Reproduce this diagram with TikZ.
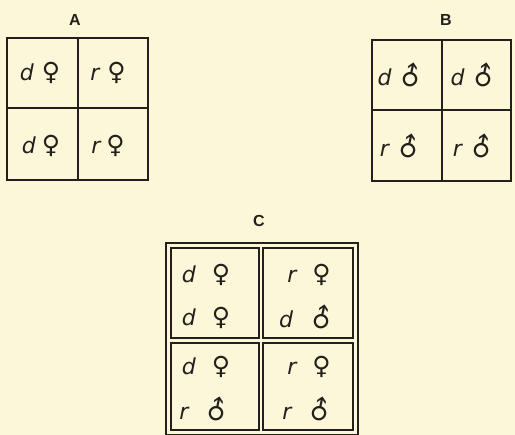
\documentclass[tikz,border=0pt]{standalone}
\usepackage{fontspec}
\setmainfont{Latin Modern Roman}
\newfontfamily\symfont{DejaVu Sans}
\newfontfamily\letfont{DejaVu Sans}
\newfontfamily\labfont{Liberation Sans}
\definecolor{paper}{RGB}{251,247,216}
\definecolor{ink}{RGB}{35,32,28}
\newcommand{\fem}{{\symfont\upshape\fontsize{25}{25}\selectfont\char"2640}}
\newcommand{\mal}{\raisebox{0.02em}{\rotatebox[origin=c]{34}{\symfont\upshape\fontsize{26}{26}\selectfont\char"2642}}}
\begin{document}
\begin{tikzpicture}[x=1pt,y=-1pt,
  gridline/.style={draw=ink,line width=1.6pt},
  cell/.style={text=ink,font=\letfont\itshape\fontsize{22}{24}\selectfont,inner sep=0pt},
  lab/.style={text=ink,font=\labfont\bfseries\fontsize{16}{18}\selectfont,inner sep=0pt}]
\fill[paper] (0,0) rectangle (515,435);
\useasboundingbox (0,0) rectangle (515,435);
% A
\node[lab] (la) at (75,20) {A};
\draw[gridline] (7,38) rectangle (148,180);
\draw[gridline] (78,38) -- (78,180);
\draw[gridline] (7,108) -- (148,108);
\node[cell] (a1) at (40,73) {d\kern8pt\fem};
\node[cell] (a2) at (108,73) {r\kern8pt\fem};
\node[cell] (a3) at (41,146) {d\kern6pt\fem};
\node[cell] (a4) at (108,146) {r\kern6pt\fem};
% B
\node[lab] (lb) at (446,20) {B};
\draw[gridline] (372,40) rectangle (511,181);
\draw[gridline] (442,40) -- (442,181);
\draw[gridline] (372,110) -- (511,110);
\node[cell] (b1) at (402,76) {d\kern5pt\mal};
\node[cell] (b2) at (475,76) {d\kern5pt\mal};
\node[cell] (b3) at (402,147) {r\kern5pt\mal};
\node[cell] (b4) at (475,147) {r\kern5pt\mal};
% C
\node[lab] (lc) at (259,221) {C};
\draw[gridline] (166,243) rectangle (358,435);
\draw[gridline,line width=1.3pt] (171,248) rectangle (259,338);
\draw[gridline,line width=1.3pt] (263,248) rectangle (353,338);
\draw[gridline,line width=1.3pt] (171,343) rectangle (259,430);
\draw[gridline,line width=1.3pt] (263,343) rectangle (353,430);
\node[cell] (c1) at (206,275) {d\kern16pt\fem};
\node[cell] (c2) at (206,318) {d\kern16pt\fem};
\node[cell] (c3) at (309,275) {r\kern16pt\fem};
\node[cell] (c4) at (308,318) {d\kern14pt\mal};
\node[cell] (c5) at (206,367) {d\kern16pt\fem};
\node[cell] (c6) at (206,410) {r\kern14pt\mal};
\node[cell] (c7) at (309,367) {r\kern16pt\fem};
\node[cell] (c8) at (309,410) {r\kern14pt\mal};
\end{tikzpicture}
\end{document}
